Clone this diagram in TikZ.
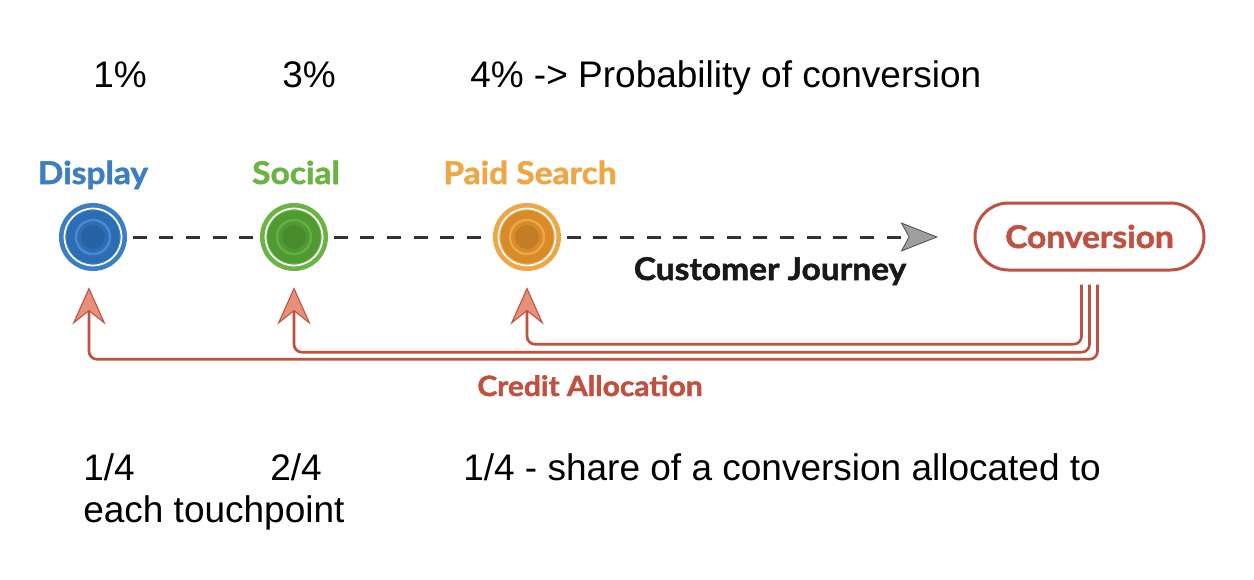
\documentclass[tikz,border=0pt]{standalone}
\usepackage{fontspec}
\setmainfont{Liberation Sans}
\newfontfamily\lbl{Lato}[FakeStretch=1.07,BoldFeatures={FakeBold=1.6}]
\usetikzlibrary{arrows.meta,calc,shapes.misc}
\definecolor{blueT}{HTML}{3C7DC4}
\definecolor{blueD}{HTML}{2C6DB6}
\definecolor{blueL}{HTML}{4A8ACC}
\definecolor{greenT}{HTML}{6BB344}
\definecolor{greenD}{HTML}{4F9B31}
\definecolor{greenL}{HTML}{66AE45}
\definecolor{orangeT}{HTML}{EEA744}
\definecolor{orangeD}{HTML}{D98B2A}
\definecolor{orangeL}{HTML}{ECA746}
\definecolor{credred}{HTML}{C0503F}
\definecolor{salmon}{HTML}{E6907A}
\definecolor{dashgray}{HTML}{333333}
\newcommand{\touchpt}[4]{%
  \node[tpnode] (#1) at (#2,#3) {};
  \fill[#4T] (#1.center) circle[radius=34];
  \draw[white,line width=1.3pt] (#1.center) circle[radius=28.5];
  \fill[#4D] (#1.center) circle[radius=26.5];
  \draw[#4L,line width=1.8pt] (#1.center) circle[radius=17];
  \fill[#4D!90!black] (#1.center) circle[radius=12];
}
\tikzset{
  tpnode/.style={circle,minimum size=51pt,inner sep=0pt},
  bigtext/.style={font=\fontsize{27.75pt}{33pt}\selectfont,anchor=base west,inner sep=0pt,text=black},
  lbltext/.style={font=\lbl\bfseries\fontsize{23.5pt}{26pt}\selectfont,anchor=base,inner sep=0pt},
  journey/.style={dashgray,line width=2.25pt,dash pattern=on 10.5pt off 9.5pt,shorten <=4pt,shorten >=4pt},
  credit/.style={credred,line width=2pt,rounded corners=6pt,
    -{Stealth[length=28pt,width=25pt,inset=10pt,fill=salmon,line width=0.8pt]}},
  convbox/.style={rounded rectangle,draw=credred,line width=2.25pt,minimum width=171.75pt,minimum height=50.25pt,inner sep=0pt,
    text=credred,font=\lbl\bfseries\fontsize{23.5pt}{26pt}\selectfont}
}
\begin{document}
\begin{tikzpicture}[x=0.75pt,y=-0.75pt]
\useasboundingbox (0,0) rectangle (1254,579);
\fill[white] (0,0) rectangle (1254,579);
% top texts
\node[bigtext] (p1) at (93,87) {1\%};
\node[bigtext] (p2) at (282,87) {3\%};
\node[bigtext] (p3) at (470,87) {4\% -> Probability of conversion};
% labels
\node[lbltext,text=blueT] (ldisp) at (93,184) {Display};
\node[lbltext,text=greenT] (lsoc) at (296,184) {Social};
\node[lbltext,text=orangeT] (lpaid) at (530,184) {Paid Search};
% touchpoints
\touchpt{disp}{93}{237}{blue}
\touchpt{soc}{294}{237}{green}
\touchpt{paid}{527}{237}{orange}
\coordinate (jend) at (938,237);
\draw[journey] (disp) -- (soc);
\draw[journey] (soc) -- (paid);
\draw[journey,shorten >=0pt,-{Stealth[length=28pt,width=22pt,inset=6pt,fill=gray!75,color=gray!60!black,line width=0.6pt]}] (paid) -- (jend);
\node[font=\lbl\bfseries\fontsize{23.5pt}{26pt}\selectfont,text=black!90,anchor=base,inner sep=0pt] (cj) at (770,280) {Customer Journey};
% conversion
\node[convbox] (conv) at (1089.5,236.5) {Conversion};
% credit allocation
\draw[credit] ($(conv.south)+(-8,13)$) |- ($(paid.south)+(0,73)$) -- ($(paid.south)+(0,16)$);
\draw[credit] ($(conv.south)+(0,13)$) |- ($(soc.south)+(0,81)$) -- ($(soc.south)+(0,16)$);
\draw[credit] ($(conv.south)+(8,13)$) |- ($(disp.south)+(-4,88)$) -- ($(disp.south)+(-4,16)$);
\node[font=\lbl\bfseries\fontsize{21pt}{23pt}\selectfont,text=credred,anchor=base,inner sep=0pt] (ca) at (590,396) {Credit Allocation};
% bottom texts
\node[bigtext] (s1) at (83,480) {1/4};
\node[bigtext] (s2) at (270,480) {2/4};
\node[bigtext] (s3) at (463,480) {1/4 - share of a conversion allocated to};
\node[bigtext] (s4) at (83,522) {each touchpoint};
\end{tikzpicture}
\end{document}
